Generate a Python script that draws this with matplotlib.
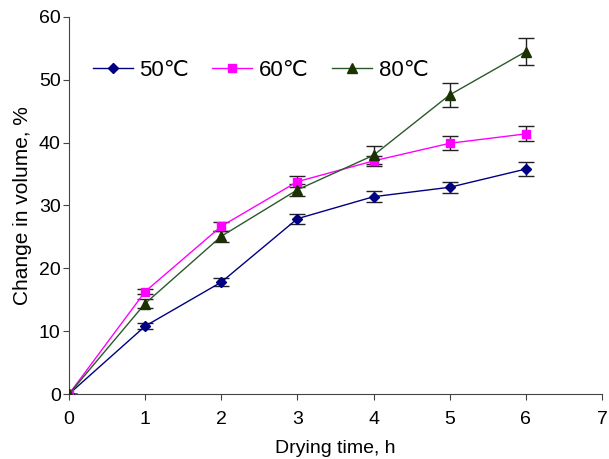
import matplotlib
matplotlib.use("Agg")
import matplotlib.pyplot as plt

plt.rcParams['font.family'] = ['Liberation Sans', 'DejaVu Sans']

time_h = [0, 1, 2, 3, 4, 5, 6]
v50 = [0, 10.8, 17.8, 27.9, 31.4, 32.9, 35.8]
e50 = [0, 0.5, 0.6, 0.8, 0.9, 0.9, 1.1]
v60 = [0, 16.3, 26.7, 33.8, 37.1, 39.9, 41.4]
e60 = [0, 0.4, 0.7, 0.9, 0.8, 1.1, 1.2]
v80 = [0, 14.4, 25.1, 32.5, 38.0, 47.6, 54.5]
e80 = [0, 0.7, 0.9, 1.0, 1.4, 1.9, 2.2]
labels = ['50\u2103', '60\u2103', '80\u2103']

fig = plt.figure(figsize=(6.09, 4.59), dpi=100)
ax = fig.add_axes([0.1133, 0.1416, 0.8752, 0.8214])

series = [
    (v50, e50, '#000080', '#000080', 'D', 5.5),
    (v60, e60, '#ff00ff', '#ff00ff', 's', 6),
    (v80, e80, '#2a5a2a', '#1a3300', '^', 7),
]
handles = []
for (vals, errs, lc, mc, mk, ms), lab in zip(series, labels):
    ax.errorbar(time_h, vals, yerr=errs, fmt='none', ecolor='#222222',
                elinewidth=1, capsize=6, capthick=1, zorder=2)
    h, = ax.plot(time_h, vals, color=lc, lw=1, marker=mk, ms=ms,
                 mfc=mc, mec=mc, zorder=3, label=lab)
    handles.append(h)

ax.set_xlim(0, 7)
ax.set_ylim(0, 60)
ax.set_xticks(range(0, 8))
ax.set_yticks(range(0, 61, 10))
for s in ['top', 'right']:
    ax.spines[s].set_visible(False)
for s in ['left', 'bottom']:
    ax.spines[s].set_color('#444444')
ax.tick_params(direction='out', length=4, labelsize=14, color='#444444')
ax.tick_params(axis='x', pad=8)
ax.tick_params(axis='y', pad=2)
ax.set_xlabel('Drying time, h', fontsize=14, labelpad=9)
ax.set_ylabel('Change in volume, %', fontsize=15, labelpad=5)

ax.legend(handles=handles, ncol=3, frameon=False, fontsize=16,
          loc='center left', bbox_to_anchor=(0.007, 0.859),
          handlelength=1.8, columnspacing=1.05, handletextpad=0.3)

fig.savefig('out.png', dpi=100)
